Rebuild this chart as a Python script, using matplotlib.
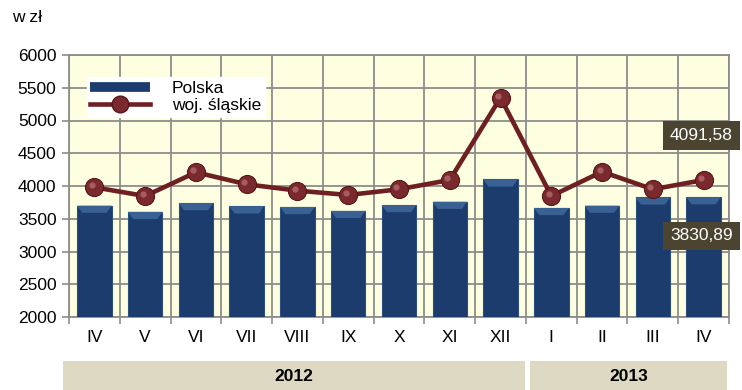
import matplotlib
matplotlib.use("Agg")
import matplotlib.pyplot as plt
import matplotlib.transforms as mtransforms
from matplotlib.patches import Rectangle, Polygon
from matplotlib.lines import Line2D
import numpy as np

plt.rcParams['font.family'] = ['Liberation Sans', 'DejaVu Sans']

months = ["IV", "V", "VI", "VII", "VIII", "IX", "X", "XI", "XII", "I", "II", "III", "IV"]
polska = [3700, 3605, 3740, 3690, 3680, 3620, 3710, 3760, 4100, 3665, 3700, 3826, 3830.89]
slaskie = [3980, 3847, 4209, 4026, 3929, 3863, 3950, 4092, 5348, 3847, 4218, 3950, 4091.58]
years = ["2012", "2013"]
year_spans = [(-0.62, 8.48), (8.58, 12.46)]
yticks = [2000, 2500, 3000, 3500, 4000, 4500, 5000, 5500, 6000]

FS = 12.5
W, H = 742, 390
fig = plt.figure(figsize=(W / 100, H / 100), dpi=100)
ax = fig.add_axes([69 / W, 1 - 317 / H, 660 / W, 262 / H])
ax.set_facecolor("#fefee0")

x = np.arange(len(months))
bar_w = 0.68

# bars, with a lighter bevelled cap drawn as a trapezoid on each top
ax.bar(x, polska, width=bar_w, color="#1b3c6c", edgecolor="#2c4f80", linewidth=0.8, zorder=3)
cap = 110
for xi, v in zip(x, polska):
    hw = bar_w / 2
    ax.add_patch(Polygon([(xi - hw, v), (xi + hw, v), (xi + hw * 0.7, v - cap), (xi - hw * 0.7, v - cap)],
                         closed=True, facecolor="#3a6194", edgecolor="none", zorder=3.5))

# line with spherical markers
ax.plot(x, slaskie, color="#6e1f22", linewidth=3.3, zorder=4)
ax.plot(x, slaskie, linestyle="none", marker="o", markersize=13,
        markerfacecolor="#7a2a2e", markeredgecolor="#5a1518", markeredgewidth=0.8, zorder=5)
ax.plot(x - 0.05, np.array(slaskie) + 30, linestyle="none", marker="o", markersize=4.5,
        markerfacecolor="#b06a6c", markeredgewidth=0, alpha=0.8, zorder=6)

ax.set_xlim(-0.5, len(months) - 0.5)
ax.set_ylim(2000, 6000)
ax.set_yticks(yticks)
ax.set_yticklabels([str(v) for v in yticks], fontsize=FS)

# vertical grid at category boundaries
ax.set_xticks(np.arange(-0.5, len(months)), minor=False)
ax.set_xticklabels([])
ax.set_xticks(x, minor=True)
ax.set_xticklabels(months, minor=True, fontsize=FS)
ax.tick_params(axis="x", which="minor", length=0, pad=9)
ax.tick_params(axis="x", which="major", length=5, color="#8c8c8c", width=1.2)
ax.tick_params(axis="y", length=5, color="#8c8c8c", width=1.2, pad=4)
ax.grid(True, which="major", axis="both", color="#8c8c8c", linewidth=1.3, zorder=0)
ax.set_axisbelow(True)
for s in ax.spines.values():
    s.set_color("#8c8c8c")
    s.set_linewidth(1.3)

# value labels
box = dict(boxstyle="square,pad=0.4", facecolor="#4a4430", edgecolor="none")
ax.annotate("4091,58", xy=(x[-1], slaskie[-1]), xytext=(-1.5, 32), textcoords="offset points",
            ha="center", va="center", color="white", fontsize=FS, zorder=10,
            bbox=box, annotation_clip=False)
ax.annotate("3830,89", xy=(x[-1], polska[-1]), xytext=(-1.5, -28), textcoords="offset points",
            ha="center", va="center", color="white", fontsize=FS, zorder=10,
            bbox=box, annotation_clip=False)

# legend
handles = [
    Line2D([0], [0], color="#1b3c6c", linewidth=7, solid_capstyle="butt"),
    Line2D([0], [0], color="#6e1f22", linewidth=3.3, marker="o", markersize=12,
           markerfacecolor="#7a2a2e", markeredgecolor="#5a1518"),
]
leg = ax.legend(handles, ["Polska", "woj. śląskie"], loc="upper left",
                bbox_to_anchor=((87 - 69) / 660, (317 - 77) / 262), fontsize=FS,
                frameon=True, fancybox=False, framealpha=1, edgecolor="white",
                handlelength=3.4, handletextpad=1.3, borderpad=0.2, labelspacing=0.15,
                borderaxespad=0)
leg.set_zorder(8)

# year bands under the month labels
trans = mtransforms.blended_transform_factory(ax.transData, fig.transFigure)
band_h = 1 - 361 / H
for label, (x0, x1) in zip(years, year_spans):
    fig.add_artist(Rectangle((x0, 0), x1 - x0, band_h, transform=trans,
                             facecolor="#ddd9c3", edgecolor="none"))
    fig.text((x0 + x1) / 2, band_h / 2 - 0.003, label, transform=trans,
             ha="center", va="center", fontsize=FS, fontweight="bold")

fig.text(12 / W, 1 - 18 / H, "w zł", fontsize=FS, ha="left", va="center")

fig.savefig("out.png", dpi=100)
